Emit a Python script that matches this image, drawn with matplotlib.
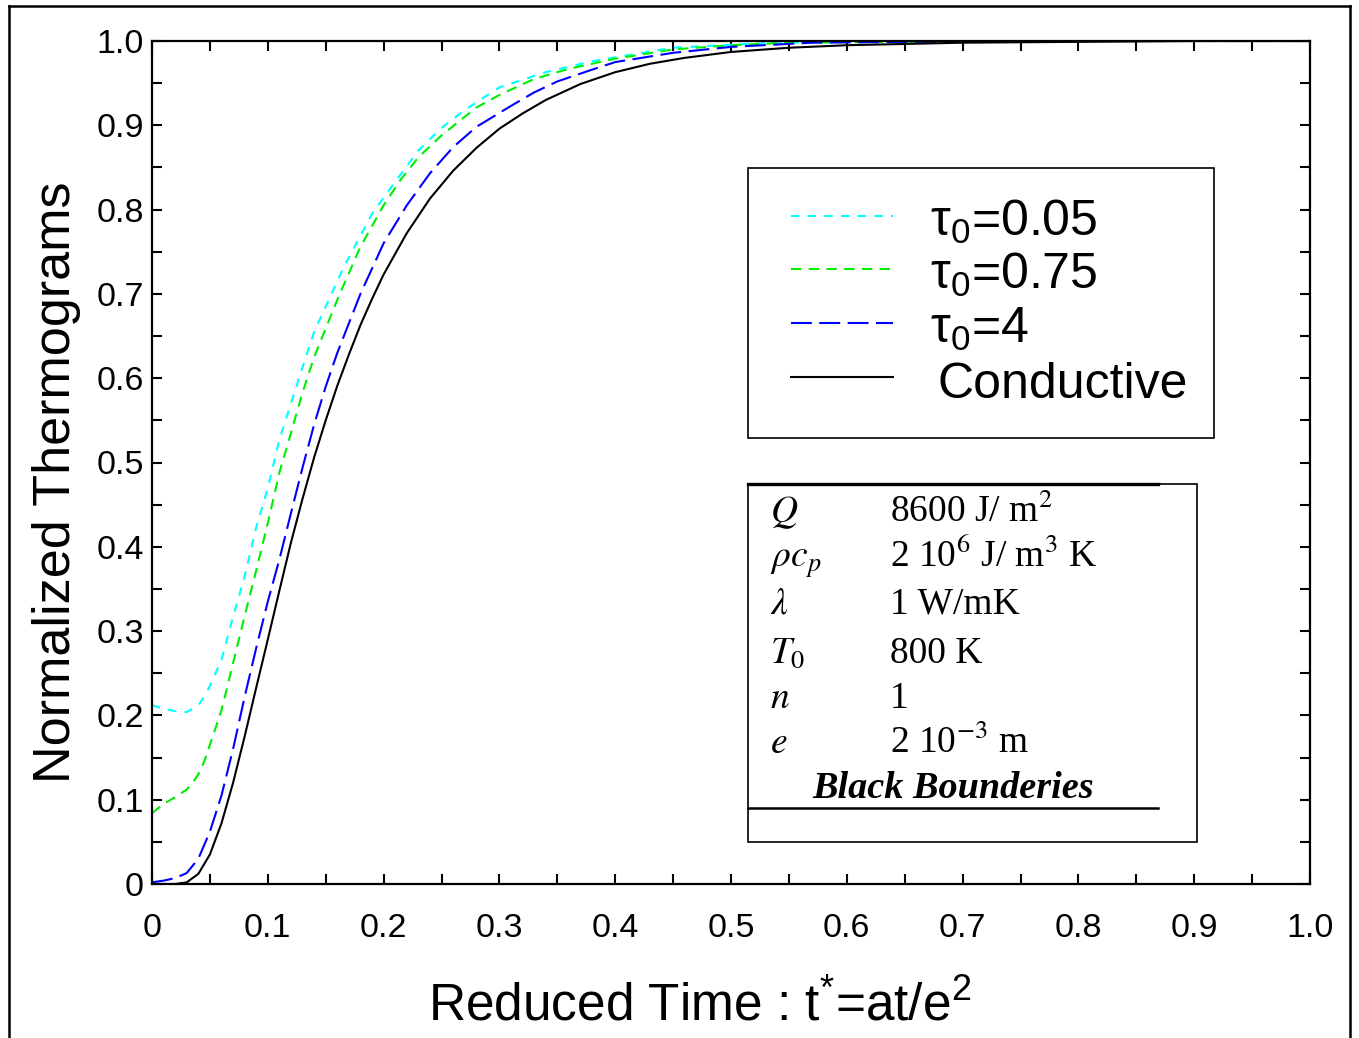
import matplotlib
matplotlib.use("Agg")
import matplotlib.pyplot as plt
from matplotlib.lines import Line2D
from matplotlib.patches import Rectangle
from matplotlib.ticker import MultipleLocator, FuncFormatter

plt.rcParams['font.family'] = ['Liberation Sans', 'DejaVu Sans']
plt.rcParams['mathtext.fontset'] = 'custom'
plt.rcParams['mathtext.rm'] = 'Liberation Sans'
plt.rcParams['mathtext.it'] = 'Liberation Sans'
plt.rcParams['mathtext.bf'] = 'Liberation Sans:bold'
plt.rcParams['mathtext.default'] = 'it'

# ---- data ----
t_cond = [0, 0.02, 0.03, 0.04, 0.05, 0.06, 0.07, 0.08, 0.09, 0.10, 0.11, 0.12, 0.13, 0.14,
          0.15, 0.16, 0.17, 0.18, 0.19, 0.20, 0.22, 0.24, 0.26, 0.28, 0.30, 0.32, 0.34,
          0.37, 0.40, 0.43, 0.46, 0.50, 0.55, 0.60, 0.70, 0.80, 0.90, 1.0]
y_cond = [0, 0, 0.002, 0.012, 0.035, 0.072, 0.12, 0.175, 0.233, 0.29, 0.348, 0.405, 0.457,
          0.506, 0.55, 0.591, 0.628, 0.663, 0.694, 0.723, 0.772, 0.813, 0.846, 0.873, 0.896,
          0.914, 0.93, 0.949, 0.963, 0.973, 0.98, 0.987, 0.992, 0.995, 0.998, 0.999, 1.0, 1.0]

t_tau4 = [0, 0.01, 0.02, 0.03, 0.04, 0.05, 0.06, 0.07, 0.08, 0.09, 0.10, 0.11, 0.12, 0.13,
          0.14, 0.15, 0.16, 0.18, 0.20, 0.22, 0.24, 0.26, 0.28, 0.31, 0.33, 0.35, 0.38,
          0.40, 0.45, 0.50, 0.57, 0.65, 0.8, 1.0]
y_tau4 = [0.002, 0.004, 0.007, 0.013, 0.03, 0.062, 0.105, 0.16, 0.222, 0.28, 0.335, 0.385,
          0.44, 0.494, 0.545, 0.59, 0.63, 0.70, 0.76, 0.805, 0.843, 0.874, 0.898, 0.923,
          0.939, 0.952, 0.966, 0.975, 0.986, 0.993, 0.998, 0.999, 1.0, 1.0]

t_tau075 = [0, 0.01, 0.02, 0.03, 0.035, 0.04, 0.045, 0.05, 0.06, 0.07, 0.08, 0.09, 0.10,
            0.11, 0.12, 0.13, 0.14, 0.16, 0.18, 0.20, 0.215, 0.23, 0.25, 0.28, 0.30, 0.33,
            0.36, 0.40, 0.45, 0.50, 0.55, 0.65, 0.8, 1.0]
y_tau075 = [0.084, 0.095, 0.103, 0.112, 0.12, 0.13, 0.145, 0.165, 0.206, 0.262, 0.318, 0.372,
            0.428, 0.488, 0.535, 0.583, 0.625, 0.693, 0.756, 0.805, 0.836, 0.862, 0.888,
            0.921, 0.936, 0.955, 0.967, 0.979, 0.99, 0.995, 0.998, 0.999, 1.0, 1.0]

t_tau005 = [0, 0.01, 0.02, 0.03, 0.04, 0.045, 0.05, 0.06, 0.07, 0.08, 0.09, 0.10, 0.11, 0.12,
            0.13, 0.14, 0.155, 0.165, 0.19, 0.21, 0.23, 0.25, 0.27, 0.30, 0.34, 0.38, 0.45,
            0.52, 0.6, 0.8, 1.0]
y_tau005 = [0.212, 0.208, 0.205, 0.204, 0.212, 0.222, 0.235, 0.266, 0.317, 0.365, 0.423, 0.47,
            0.527, 0.57, 0.613, 0.655, 0.70, 0.73, 0.795, 0.833, 0.87, 0.897, 0.918, 0.945,
            0.963, 0.976, 0.992, 0.997, 0.999, 1.0, 1.0]

labels = [r"$\mathrm{\tau_0}$=0.05", r"$\mathrm{\tau_0}$=0.75", r"$\mathrm{\tau_0}$=4",
          "Conductive"]
x_ticks = [0, 0.1, 0.2, 0.3, 0.4, 0.5, 0.6, 0.7, 0.8, 0.9, 1.0]
y_ticks = [0, 0.1, 0.2, 0.3, 0.4, 0.5, 0.6, 0.7, 0.8, 0.9, 1.0]

param_names = [r"$Q$", r"$\rho c_p$", r"$\lambda$", r"$T_0$", r"$n$", r"$e$"]
param_values = [r"8600 J/ m$^{\mathrm{2}}$", r"2 10$^{\mathrm{6}}$ J/ m$^{\mathrm{3}}$ K",
                "1 W/mK", "800 K", "1", r"2 10$^{\mathrm{-3}}$ m"]
param_title = "Black Bounderies"

# ---- figure ----
fig = plt.figure(figsize=(13.59, 10.38), dpi=100)
ax = fig.add_axes([152/1359, 1-884/1038, (1310-152)/1359, (884-41)/1038])

lw = 1.5
styles = [
    dict(color='#00ffff', dashes=(4, 4)),
    dict(color='#00ee00', dashes=(5, 3.5)),
    dict(color='#0000ff', dashes=(10, 3.6)),
    dict(color='black', linestyle='-'),
]
series = [(t_tau005, y_tau005), (t_tau075, y_tau075), (t_tau4, y_tau4), (t_cond, y_cond)]
for (tt, yy), st in zip(series, styles):
    ax.plot(tt, yy, lw=lw, solid_joinstyle='round', dash_joinstyle='round', **st)

ax.set_xlim(0, 1)
ax.set_ylim(0, 1)
ax.set_xticks(x_ticks)
ax.set_yticks(y_ticks)
ax.xaxis.set_minor_locator(MultipleLocator(0.05))
ax.yaxis.set_minor_locator(MultipleLocator(0.05))
fmt = FuncFormatter(lambda v, p: "0" if abs(v) < 1e-9 else f"{v:.1f}")
ax.xaxis.set_major_formatter(fmt)
ax.yaxis.set_major_formatter(fmt)
ax.tick_params(which='both', direction='in', top=True, right=True, length=7, width=1.5)
ax.tick_params(axis='x', which='major', labelsize=24.5, pad=21)
ax.tick_params(axis='y', which='major', labelsize=24.5, pad=6)
for s in ax.spines.values():
    s.set_linewidth(1.6)

# axis labels
fig.text(700/1359, 1-1020/1038, r"Reduced Time : t$^{\mathrm{*}}$=at/e$^{\mathrm{2}}$",
         fontsize=37, ha='center', va='baseline')
fig.text(57/1359, 1-482/1038, "Normalized Thermograms", fontsize=37.5, rotation=90,
         ha='center', va='center')

# legend box (manual)
def ax_x(px):
    return (px-152)/1158
def ax_y(py):
    return (884-py)/843

ax.add_patch(Rectangle((ax_x(748), ax_y(438)), ax_x(1214)-ax_x(748), ax_y(168)-ax_y(438),
                       transform=ax.transAxes, fill=False, edgecolor='black', lw=1.2,
                       zorder=5))
line_ys = [216, 269, 323, 377]
text_base = [236, 289, 343, 398]
text_x = [930, 930, 930, 938]
for st, lab, ly, tb, tx in zip(styles, labels, line_ys, text_base, text_x):
    ax.add_line(Line2D([ax_x(791), ax_x(893)], [ax_y(ly), ax_y(ly)], lw=lw,
                       transform=ax.transAxes, **st))
    ax.text(ax_x(tx), ax_y(tb), lab, transform=ax.transAxes, fontsize=36,
            ha='left', va='baseline')

# parameter box
ax.add_patch(Rectangle((ax_x(748), ax_y(842)), ax_x(1197)-ax_x(748), ax_y(484)-ax_y(842),
                       transform=ax.transAxes, fill=False, edgecolor='black', lw=1.2,
                       zorder=5))
ax.add_line(Line2D([ax_x(748), ax_x(1158)], [ax_y(484), ax_y(484)], lw=2.4, color='black',
                   transform=ax.transAxes, zorder=6))
ax.add_line(Line2D([ax_x(748), ax_x(1158)], [ax_y(808), ax_y(808)], lw=1.8, color='black',
                   transform=ax.transAxes, zorder=6))
row_base = [522, 567, 614, 663, 708, 753]
for nm, val, rb in zip(param_names, param_values, row_base):
    ax.text(ax_x(770), ax_y(rb), nm, transform=ax.transAxes, fontsize=27,
            family='Liberation Serif', math_fontfamily='stix', ha='left', va='baseline')
    ax.text(ax_x(890), ax_y(rb), val, transform=ax.transAxes, fontsize=27,
            family='Liberation Serif', math_fontfamily='stix', ha='left', va='baseline')
ax.text(ax_x(953), ax_y(798), param_title, transform=ax.transAxes, fontsize=27.5,
        family='Liberation Serif', fontweight='bold', fontstyle='italic',
        ha='center', va='baseline')

# outer frame of the figure
for xs, ys in [([9/1359, 9/1359], [-0.01, 1-6/1038]),
               ([9/1359, 1350/1359], [1-6/1038, 1-6/1038]),
               ([1350/1359, 1350/1359], [1-6/1038, -0.01])]:
    fig.add_artist(Line2D(xs, ys, color='black', lw=1.8, transform=fig.transFigure))

fig.savefig("out.png", dpi=100)
